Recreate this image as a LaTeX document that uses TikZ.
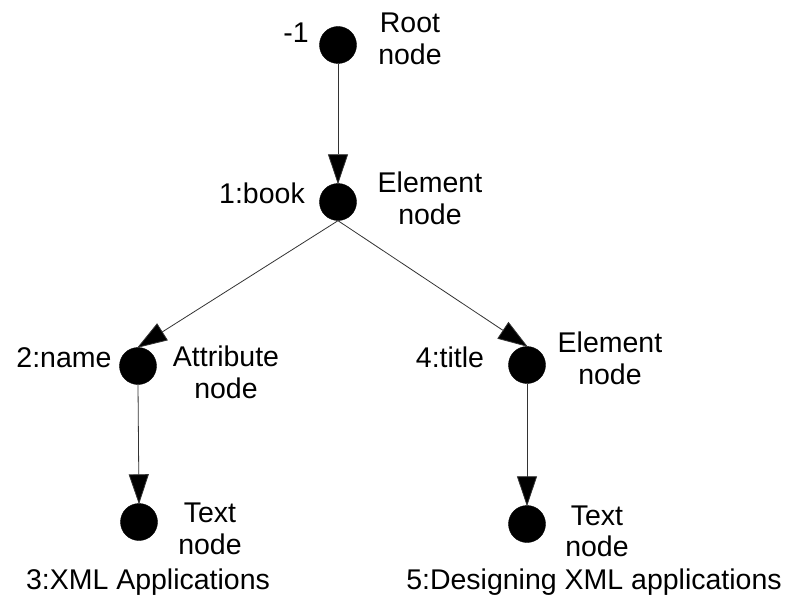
\documentclass[tikz,border=0pt]{standalone}
\usepackage{fontspec}
\setmainfont{Liberation Sans}
\usetikzlibrary{arrows.meta}
\begin{document}
\begin{tikzpicture}[x=1pt,y=-1pt,
  dot/.style={circle,fill=black,draw=black,minimum size=37pt,inner sep=0pt},
  lbl/.style={font=\fontsize{28.5}{32}\selectfont,inner sep=0pt,anchor=base,text=black},
  edge/.style={draw=black!80,line width=0.8pt,-{Triangle[length=30pt,width=20pt,fill=black]},shorten >=-1pt}]
\useasboundingbox[fill=white] (0,0) rectangle (806,599);
\node[dot] (r) at (338,45) {};
\node[dot] (b) at (338,202) {};
\node[dot] (n) at (138,366) {};
\node[dot] (t) at (527,365) {};
\node[dot] (x1) at (139,522) {};
\node[dot] (x2) at (527,524) {};
\draw[edge] (r.south) -- (b.north);
\draw[edge] (b.south) -- (n.north);
\draw[edge] (b.south) -- (t.north);
\draw[edge] (n.south) -- (x1.north);
\draw[edge] (t.south) -- (x2.north);
% right-hand labels
\node[lbl] (lr1) at (410,33) {Root};
\node[lbl] (lr2) at (410,65) {node};
\node[lbl] (lb1) at (430,192) {Element};
\node[lbl] (lb2) at (430,224) {node};
\node[lbl] (ln1) at (226,366) {Attribute};
\node[lbl] (ln2) at (226,398) {node};
\node[lbl] (lt1) at (610,352) {Element};
\node[lbl] (lt2) at (610,384) {node};
\node[lbl] (lx11) at (210,522) {Text};
\node[lbl] (lx12) at (210,554) {node};
\node[lbl] (lx21) at (597,525) {Text};
\node[lbl] (lx22) at (597,556) {node};
% left-hand labels
\node[lbl] (m1) at (296,43) {-1};
\node[lbl] (mb) at (262,204) {1:book};
\node[lbl] (mn) at (64,367) {2:name};
\node[lbl] (mt) at (450,367) {4:title};
\node[lbl] (c3) at (148,589) {3:XML Applications};
\node[lbl] (c5) at (594,589) {5:Designing XML applications};
\end{tikzpicture}
\end{document}
